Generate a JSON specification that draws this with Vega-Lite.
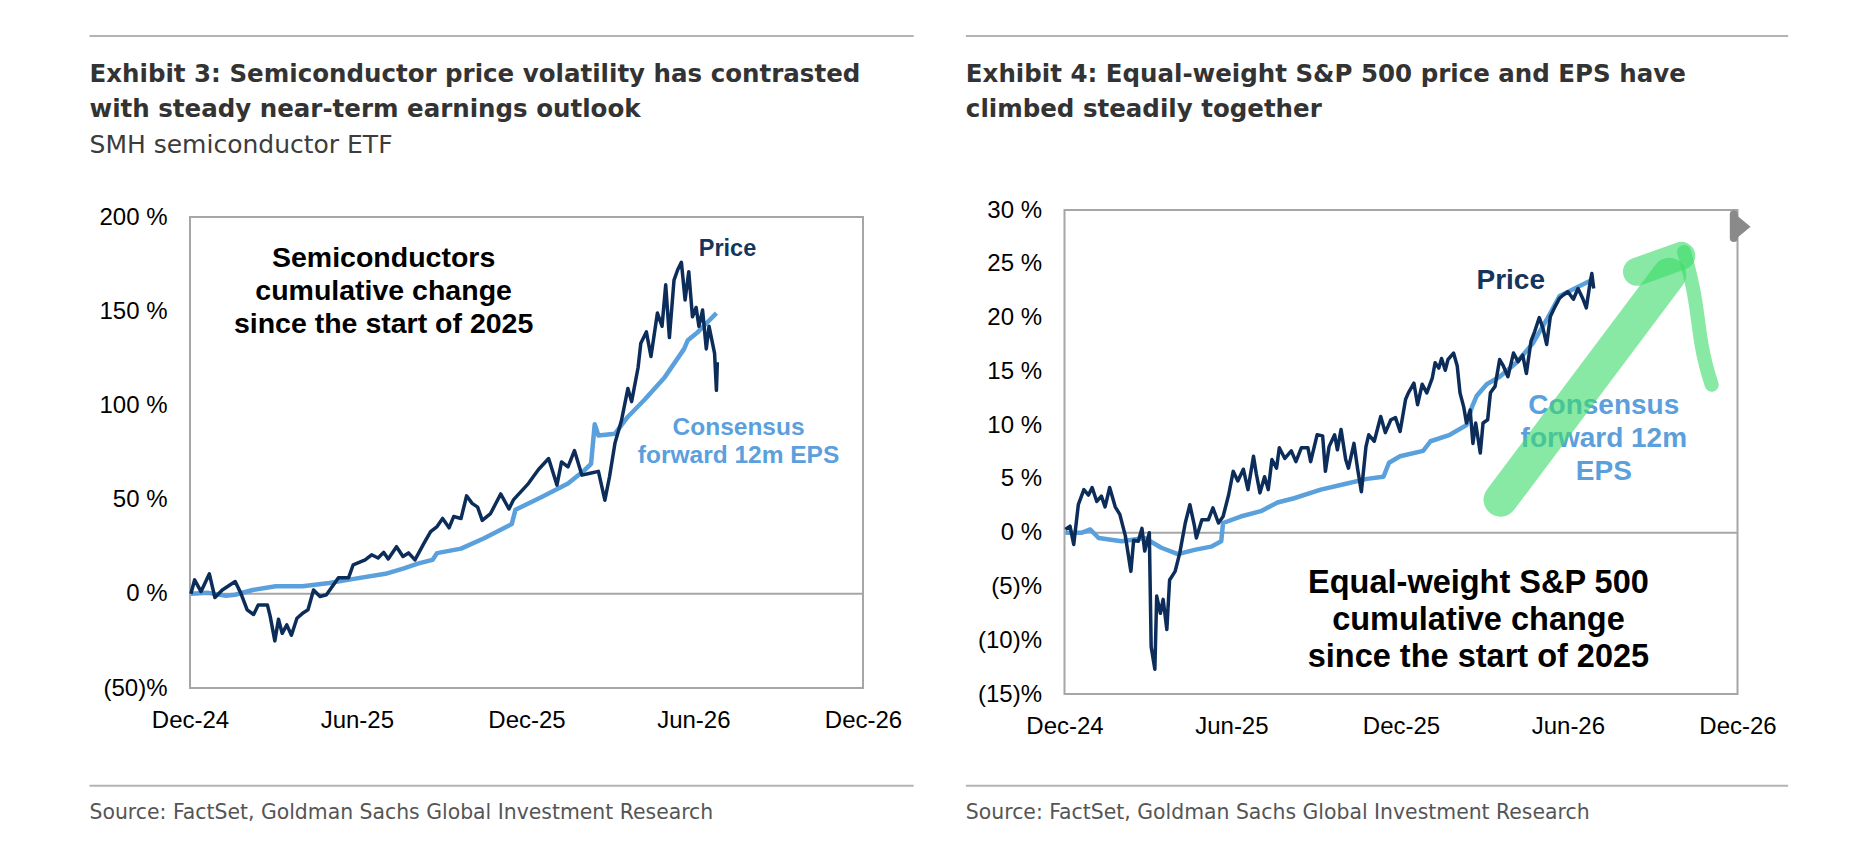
{
  "$schema": "https://vega.github.io/schema/vega-lite/v6.json",
  "background": "white",
  "padding": {"left": 88, "top": 35, "right": 0, "bottom": 0},
  "spacing": 49.5,
  "config": {
    "view": {"stroke": null},
    "axis": {"labelFont": "Liberation Sans", "labelFontSize": 24, "labelColor": "#000000", "domain": false, "ticks": false, "grid": false, "title": null}
  },
  "datasets": {
    "smh": [
      {"date": "2025-01-01", "series": "Price", "value": 0},
      {"date": "2025-01-05", "series": "Price", "value": 7.4},
      {"date": "2025-01-12", "series": "Price", "value": 1.2},
      {"date": "2025-01-21", "series": "Price", "value": 10.6},
      {"date": "2025-01-27", "series": "Price", "value": -2},
      {"date": "2025-02-04", "series": "Price", "value": 2},
      {"date": "2025-02-18", "series": "Price", "value": 6.5},
      {"date": "2025-02-24", "series": "Price", "value": 0.5},
      {"date": "2025-03-03", "series": "Price", "value": -8.5},
      {"date": "2025-03-10", "series": "Price", "value": -11},
      {"date": "2025-03-15", "series": "Price", "value": -6},
      {"date": "2025-03-25", "series": "Price", "value": -6},
      {"date": "2025-03-28", "series": "Price", "value": -12},
      {"date": "2025-04-02", "series": "Price", "value": -25},
      {"date": "2025-04-06", "series": "Price", "value": -13.5},
      {"date": "2025-04-10", "series": "Price", "value": -21},
      {"date": "2025-04-15", "series": "Price", "value": -16.5},
      {"date": "2025-04-20", "series": "Price", "value": -22},
      {"date": "2025-04-26", "series": "Price", "value": -13},
      {"date": "2025-05-03", "series": "Price", "value": -10},
      {"date": "2025-05-08", "series": "Price", "value": -8.5},
      {"date": "2025-05-14", "series": "Price", "value": 2},
      {"date": "2025-05-21", "series": "Price", "value": -1.4},
      {"date": "2025-05-28", "series": "Price", "value": -0.5},
      {"date": "2025-06-10", "series": "Price", "value": 8.5},
      {"date": "2025-06-21", "series": "Price", "value": 8.5},
      {"date": "2025-06-26", "series": "Price", "value": 15.4},
      {"date": "2025-07-09", "series": "Price", "value": 18},
      {"date": "2025-07-16", "series": "Price", "value": 20.7},
      {"date": "2025-07-23", "series": "Price", "value": 19},
      {"date": "2025-07-29", "series": "Price", "value": 22},
      {"date": "2025-08-03", "series": "Price", "value": 18.5},
      {"date": "2025-08-12", "series": "Price", "value": 25},
      {"date": "2025-08-19", "series": "Price", "value": 19.8},
      {"date": "2025-08-25", "series": "Price", "value": 21.7},
      {"date": "2025-09-01", "series": "Price", "value": 18},
      {"date": "2025-09-11", "series": "Price", "value": 27},
      {"date": "2025-09-18", "series": "Price", "value": 33},
      {"date": "2025-09-25", "series": "Price", "value": 35.7},
      {"date": "2025-10-01", "series": "Price", "value": 40},
      {"date": "2025-10-08", "series": "Price", "value": 35},
      {"date": "2025-10-13", "series": "Price", "value": 41},
      {"date": "2025-10-21", "series": "Price", "value": 40},
      {"date": "2025-10-27", "series": "Price", "value": 52},
      {"date": "2025-11-02", "series": "Price", "value": 48},
      {"date": "2025-11-08", "series": "Price", "value": 46},
      {"date": "2025-11-13", "series": "Price", "value": 39},
      {"date": "2025-11-22", "series": "Price", "value": 42.6},
      {"date": "2025-12-03", "series": "Price", "value": 53},
      {"date": "2025-12-12", "series": "Price", "value": 45},
      {"date": "2025-12-17", "series": "Price", "value": 50},
      {"date": "2026-01-02", "series": "Price", "value": 58.5},
      {"date": "2026-01-13", "series": "Price", "value": 66},
      {"date": "2026-01-24", "series": "Price", "value": 71.8},
      {"date": "2026-02-02", "series": "Price", "value": 57.7},
      {"date": "2026-02-07", "series": "Price", "value": 70},
      {"date": "2026-02-14", "series": "Price", "value": 67.4},
      {"date": "2026-02-21", "series": "Price", "value": 76},
      {"date": "2026-03-01", "series": "Price", "value": 63},
      {"date": "2026-03-10", "series": "Price", "value": 64},
      {"date": "2026-03-19", "series": "Price", "value": 65},
      {"date": "2026-03-26", "series": "Price", "value": 49.7},
      {"date": "2026-03-31", "series": "Price", "value": 62},
      {"date": "2026-04-06", "series": "Price", "value": 80},
      {"date": "2026-04-13", "series": "Price", "value": 92},
      {"date": "2026-04-20", "series": "Price", "value": 109},
      {"date": "2026-04-24", "series": "Price", "value": 102},
      {"date": "2026-05-01", "series": "Price", "value": 120},
      {"date": "2026-05-04", "series": "Price", "value": 133},
      {"date": "2026-05-10", "series": "Price", "value": 139},
      {"date": "2026-05-15", "series": "Price", "value": 126},
      {"date": "2026-05-22", "series": "Price", "value": 149},
      {"date": "2026-05-27", "series": "Price", "value": 142},
      {"date": "2026-05-31", "series": "Price", "value": 164},
      {"date": "2026-06-04", "series": "Price", "value": 136},
      {"date": "2026-06-09", "series": "Price", "value": 166.5},
      {"date": "2026-06-13", "series": "Price", "value": 172},
      {"date": "2026-06-17", "series": "Price", "value": 176},
      {"date": "2026-06-21", "series": "Price", "value": 156},
      {"date": "2026-06-25", "series": "Price", "value": 171},
      {"date": "2026-06-29", "series": "Price", "value": 147},
      {"date": "2026-07-03", "series": "Price", "value": 152},
      {"date": "2026-07-06", "series": "Price", "value": 142},
      {"date": "2026-07-10", "series": "Price", "value": 150.6},
      {"date": "2026-07-14", "series": "Price", "value": 130},
      {"date": "2026-07-17", "series": "Price", "value": 142},
      {"date": "2026-07-23", "series": "Price", "value": 127.6},
      {"date": "2026-07-25", "series": "Price", "value": 108},
      {"date": "2026-07-26", "series": "Price", "value": 123},
      {"date": "2025-01-01", "series": "EPS", "value": 0},
      {"date": "2025-01-20", "series": "EPS", "value": 0.5},
      {"date": "2025-02-08", "series": "EPS", "value": -1},
      {"date": "2025-02-18", "series": "EPS", "value": -0.5},
      {"date": "2025-03-09", "series": "EPS", "value": 2},
      {"date": "2025-04-03", "series": "EPS", "value": 4},
      {"date": "2025-05-02", "series": "EPS", "value": 4},
      {"date": "2025-05-31", "series": "EPS", "value": 5.7},
      {"date": "2025-06-25", "series": "EPS", "value": 7.8},
      {"date": "2025-07-31", "series": "EPS", "value": 10.6},
      {"date": "2025-08-20", "series": "EPS", "value": 13.5},
      {"date": "2025-09-04", "series": "EPS", "value": 16},
      {"date": "2025-09-20", "series": "EPS", "value": 18},
      {"date": "2025-09-25", "series": "EPS", "value": 21.6},
      {"date": "2025-10-21", "series": "EPS", "value": 24},
      {"date": "2025-11-15", "series": "EPS", "value": 29.5},
      {"date": "2025-12-15", "series": "EPS", "value": 37},
      {"date": "2025-12-19", "series": "EPS", "value": 44.6},
      {"date": "2026-01-17", "series": "EPS", "value": 51.5},
      {"date": "2026-02-14", "series": "EPS", "value": 58.5},
      {"date": "2026-03-04", "series": "EPS", "value": 65.6},
      {"date": "2026-03-11", "series": "EPS", "value": 69},
      {"date": "2026-03-15", "series": "EPS", "value": 90},
      {"date": "2026-03-19", "series": "EPS", "value": 84},
      {"date": "2026-04-06", "series": "EPS", "value": 85},
      {"date": "2026-04-20", "series": "EPS", "value": 94},
      {"date": "2026-05-08", "series": "EPS", "value": 103},
      {"date": "2026-05-30", "series": "EPS", "value": 115},
      {"date": "2026-06-20", "series": "EPS", "value": 130},
      {"date": "2026-06-24", "series": "EPS", "value": 134.6},
      {"date": "2026-07-05", "series": "EPS", "value": 139},
      {"date": "2026-07-15", "series": "EPS", "value": 144},
      {"date": "2026-07-25", "series": "EPS", "value": 149}
    ],
    "ew": [
      {"date": "2025-01-01", "series": "Price", "value": 0.3},
      {"date": "2025-01-06", "series": "Price", "value": 0.6},
      {"date": "2025-01-10", "series": "Price", "value": -1.1},
      {"date": "2025-01-15", "series": "Price", "value": 2.6},
      {"date": "2025-01-21", "series": "Price", "value": 4.0},
      {"date": "2025-01-26", "series": "Price", "value": 3.5},
      {"date": "2025-01-30", "series": "Price", "value": 4.2},
      {"date": "2025-02-04", "series": "Price", "value": 2.9},
      {"date": "2025-02-09", "series": "Price", "value": 3.4},
      {"date": "2025-02-13", "series": "Price", "value": 2.4},
      {"date": "2025-02-18", "series": "Price", "value": 4.2},
      {"date": "2025-02-24", "series": "Price", "value": 2.4},
      {"date": "2025-03-01", "series": "Price", "value": 1.7},
      {"date": "2025-03-07", "series": "Price", "value": -0.3},
      {"date": "2025-03-13", "series": "Price", "value": -3.6},
      {"date": "2025-03-16", "series": "Price", "value": -0.7},
      {"date": "2025-03-21", "series": "Price", "value": -0.8},
      {"date": "2025-03-25", "series": "Price", "value": 0.4},
      {"date": "2025-03-28", "series": "Price", "value": -1.7},
      {"date": "2025-04-02", "series": "Price", "value": 0},
      {"date": "2025-04-04", "series": "Price", "value": -10.6},
      {"date": "2025-04-08", "series": "Price", "value": -12.7},
      {"date": "2025-04-10", "series": "Price", "value": -5.9},
      {"date": "2025-04-14", "series": "Price", "value": -7.5},
      {"date": "2025-04-17", "series": "Price", "value": -6.2},
      {"date": "2025-04-21", "series": "Price", "value": -9.0},
      {"date": "2025-04-24", "series": "Price", "value": -4.4},
      {"date": "2025-04-30", "series": "Price", "value": -3.6},
      {"date": "2025-05-05", "series": "Price", "value": -1.9},
      {"date": "2025-05-11", "series": "Price", "value": 0.9},
      {"date": "2025-05-16", "series": "Price", "value": 2.6},
      {"date": "2025-05-21", "series": "Price", "value": 0.6},
      {"date": "2025-05-23", "series": "Price", "value": -0.5},
      {"date": "2025-05-29", "series": "Price", "value": 1.2},
      {"date": "2025-06-05", "series": "Price", "value": 1.2},
      {"date": "2025-06-10", "series": "Price", "value": 2.3},
      {"date": "2025-06-16", "series": "Price", "value": 0.9},
      {"date": "2025-06-21", "series": "Price", "value": 1.5},
      {"date": "2025-06-27", "series": "Price", "value": 3.5},
      {"date": "2025-07-02", "series": "Price", "value": 5.7},
      {"date": "2025-07-07", "series": "Price", "value": 4.8},
      {"date": "2025-07-13", "series": "Price", "value": 5.9},
      {"date": "2025-07-18", "series": "Price", "value": 4.0},
      {"date": "2025-07-24", "series": "Price", "value": 7.1},
      {"date": "2025-07-27", "series": "Price", "value": 5.5},
      {"date": "2025-07-31", "series": "Price", "value": 3.7},
      {"date": "2025-08-05", "series": "Price", "value": 5.2},
      {"date": "2025-08-09", "series": "Price", "value": 4.0},
      {"date": "2025-08-13", "series": "Price", "value": 6.8},
      {"date": "2025-08-18", "series": "Price", "value": 6.0},
      {"date": "2025-08-21", "series": "Price", "value": 7.9},
      {"date": "2025-08-27", "series": "Price", "value": 6.9},
      {"date": "2025-09-03", "series": "Price", "value": 7.6},
      {"date": "2025-09-08", "series": "Price", "value": 6.6},
      {"date": "2025-09-14", "series": "Price", "value": 7.9},
      {"date": "2025-09-21", "series": "Price", "value": 7.9},
      {"date": "2025-09-24", "series": "Price", "value": 6.6},
      {"date": "2025-10-01", "series": "Price", "value": 9.1},
      {"date": "2025-10-07", "series": "Price", "value": 9.0},
      {"date": "2025-10-10", "series": "Price", "value": 5.7},
      {"date": "2025-10-14", "series": "Price", "value": 8.0},
      {"date": "2025-10-20", "series": "Price", "value": 9.1},
      {"date": "2025-10-23", "series": "Price", "value": 7.7},
      {"date": "2025-10-27", "series": "Price", "value": 9.6},
      {"date": "2025-11-01", "series": "Price", "value": 6.8},
      {"date": "2025-11-04", "series": "Price", "value": 6.0},
      {"date": "2025-11-10", "series": "Price", "value": 8.3},
      {"date": "2025-11-14", "series": "Price", "value": 5.9},
      {"date": "2025-11-18", "series": "Price", "value": 3.8},
      {"date": "2025-11-23", "series": "Price", "value": 8.0},
      {"date": "2025-11-26", "series": "Price", "value": 9.1},
      {"date": "2025-12-02", "series": "Price", "value": 8.5},
      {"date": "2025-12-09", "series": "Price", "value": 10.8},
      {"date": "2025-12-14", "series": "Price", "value": 9.3},
      {"date": "2025-12-20", "series": "Price", "value": 10.5},
      {"date": "2025-12-25", "series": "Price", "value": 10.7},
      {"date": "2025-12-30", "series": "Price", "value": 9.4},
      {"date": "2026-01-05", "series": "Price", "value": 12.4},
      {"date": "2026-01-08", "series": "Price", "value": 13.0},
      {"date": "2026-01-14", "series": "Price", "value": 13.9},
      {"date": "2026-01-18", "series": "Price", "value": 11.9},
      {"date": "2026-01-23", "series": "Price", "value": 13.8},
      {"date": "2026-01-28", "series": "Price", "value": 13.0},
      {"date": "2026-02-03", "series": "Price", "value": 14.4},
      {"date": "2026-02-06", "series": "Price", "value": 15.8},
      {"date": "2026-02-10", "series": "Price", "value": 15.3},
      {"date": "2026-02-13", "series": "Price", "value": 16.2},
      {"date": "2026-02-17", "series": "Price", "value": 15.1},
      {"date": "2026-02-20", "series": "Price", "value": 16.1},
      {"date": "2026-02-26", "series": "Price", "value": 16.7},
      {"date": "2026-03-02", "series": "Price", "value": 15.5},
      {"date": "2026-03-05", "series": "Price", "value": 13.0},
      {"date": "2026-03-09", "series": "Price", "value": 11.7},
      {"date": "2026-03-12", "series": "Price", "value": 10.2},
      {"date": "2026-03-16", "series": "Price", "value": 11.4},
      {"date": "2026-03-19", "series": "Price", "value": 8.3},
      {"date": "2026-03-22", "series": "Price", "value": 10.2},
      {"date": "2026-03-27", "series": "Price", "value": 7.4},
      {"date": "2026-03-30", "series": "Price", "value": 10.2},
      {"date": "2026-04-04", "series": "Price", "value": 10.5},
      {"date": "2026-04-07", "series": "Price", "value": 13.0},
      {"date": "2026-04-12", "series": "Price", "value": 13.6},
      {"date": "2026-04-17", "series": "Price", "value": 16.1},
      {"date": "2026-04-21", "series": "Price", "value": 15.5},
      {"date": "2026-04-26", "series": "Price", "value": 14.5},
      {"date": "2026-05-02", "series": "Price", "value": 16.7},
      {"date": "2026-05-07", "series": "Price", "value": 15.9},
      {"date": "2026-05-12", "series": "Price", "value": 16.5},
      {"date": "2026-05-16", "series": "Price", "value": 14.8},
      {"date": "2026-05-21", "series": "Price", "value": 17.8},
      {"date": "2026-05-25", "series": "Price", "value": 18.7},
      {"date": "2026-05-30", "series": "Price", "value": 20.0},
      {"date": "2026-06-03", "series": "Price", "value": 19.0},
      {"date": "2026-06-07", "series": "Price", "value": 17.5},
      {"date": "2026-06-11", "series": "Price", "value": 20.1},
      {"date": "2026-06-16", "series": "Price", "value": 21.0},
      {"date": "2026-06-21", "series": "Price", "value": 21.8},
      {"date": "2026-06-25", "series": "Price", "value": 22.1},
      {"date": "2026-06-30", "series": "Price", "value": 22.4},
      {"date": "2026-07-06", "series": "Price", "value": 21.7},
      {"date": "2026-07-11", "series": "Price", "value": 22.7},
      {"date": "2026-07-16", "series": "Price", "value": 21.8},
      {"date": "2026-07-20", "series": "Price", "value": 20.9},
      {"date": "2026-07-24", "series": "Price", "value": 23.2},
      {"date": "2026-07-26", "series": "Price", "value": 24.1},
      {"date": "2026-07-28", "series": "Price", "value": 22.7},
      {"date": "2025-01-01", "series": "EPS", "value": 0},
      {"date": "2025-01-19", "series": "EPS", "value": 0},
      {"date": "2025-01-28", "series": "EPS", "value": 0.3},
      {"date": "2025-02-06", "series": "EPS", "value": -0.5},
      {"date": "2025-03-03", "series": "EPS", "value": -0.8},
      {"date": "2025-03-28", "series": "EPS", "value": -0.5},
      {"date": "2025-04-15", "series": "EPS", "value": -1.4},
      {"date": "2025-05-03", "series": "EPS", "value": -2.0},
      {"date": "2025-05-21", "series": "EPS", "value": -1.6},
      {"date": "2025-06-08", "series": "EPS", "value": -1.3},
      {"date": "2025-06-19", "series": "EPS", "value": -0.8},
      {"date": "2025-06-21", "series": "EPS", "value": 0.9},
      {"date": "2025-07-10", "series": "EPS", "value": 1.5},
      {"date": "2025-08-01", "series": "EPS", "value": 2.0},
      {"date": "2025-08-19", "series": "EPS", "value": 2.8},
      {"date": "2025-09-06", "series": "EPS", "value": 3.2},
      {"date": "2025-10-05", "series": "EPS", "value": 4.0},
      {"date": "2025-10-30", "series": "EPS", "value": 4.5},
      {"date": "2025-11-24", "series": "EPS", "value": 5.0},
      {"date": "2025-12-12", "series": "EPS", "value": 5.2},
      {"date": "2025-12-18", "series": "EPS", "value": 6.5},
      {"date": "2025-12-30", "series": "EPS", "value": 7.1},
      {"date": "2026-01-24", "series": "EPS", "value": 7.6},
      {"date": "2026-02-01", "series": "EPS", "value": 8.5},
      {"date": "2026-02-22", "series": "EPS", "value": 9.1},
      {"date": "2026-03-12", "series": "EPS", "value": 10.0},
      {"date": "2026-03-18", "series": "EPS", "value": 11.7},
      {"date": "2026-03-23", "series": "EPS", "value": 12.7},
      {"date": "2026-04-03", "series": "EPS", "value": 13.8},
      {"date": "2026-04-17", "series": "EPS", "value": 14.5},
      {"date": "2026-05-05", "series": "EPS", "value": 15.8},
      {"date": "2026-05-23", "series": "EPS", "value": 17.6},
      {"date": "2026-06-07", "series": "EPS", "value": 19.8},
      {"date": "2026-06-21", "series": "EPS", "value": 22.0},
      {"date": "2026-07-26", "series": "EPS", "value": 23.5}
    ],
    "arrow": [
      {"date": "2026-04-18", "value": 3.07, "part": "body"},
      {"date": "2026-10-18", "value": 23.98, "part": "body"},
      {"date": "2026-09-13", "value": 24.26, "part": "wing"},
      {"date": "2026-10-31", "value": 25.74, "part": "wing"},
      {"date": "2026-11-03", "value": 26.1, "part": "hook"},
      {"date": "2026-11-15", "value": 21.65, "part": "hook"},
      {"date": "2026-11-22", "value": 17.47, "part": "hook"},
      {"date": "2026-12-03", "value": 13.75, "part": "hook"}
    ]
  },
  "hconcat": [
    {
      "width": 673,
      "height": 478,
      "layer": [
        {
          "data": {"values": [{}]},
          "mark": {"type": "rect", "filled": false, "stroke": "#a6a6a6", "strokeWidth": 2},
          "encoding": {
            "x": {"datum": {"year": 2024, "month": 12, "date": 31, "utc": true}, "type": "temporal",
                  "scale": {"type": "utc", "domain": [{"year": 2024, "month": 12, "date": 31, "utc": true}, {"year": 2026, "month": 12, "date": 31, "utc": true}]},
                  "axis": {"values": [{"year": 2024, "month": 12, "date": 31, "utc": true}, {"year": 2025, "month": 6, "date": 30, "utc": true}, {"year": 2025, "month": 12, "date": 31, "utc": true}, {"year": 2026, "month": 6, "date": 30, "utc": true}, {"year": 2026, "month": 12, "date": 31, "utc": true}],
                           "format": "%b-%y", "labelPadding": 20, "labelFlush": false, "labelOverlap": false}},
            "x2": {"datum": {"year": 2026, "month": 12, "date": 31, "utc": true}},
            "y": {"datum": -50, "type": "quantitative",
                  "scale": {"domain": [-50, 203.72], "nice": false, "zero": false},
                  "axis": {"values": [-50, 0, 50, 100, 150, 200], "labelPadding": 23,
                           "labelExpr": "datum.value < 0 ? '(' + (-datum.value) + ')%' : datum.value + ' %'"}},
            "y2": {"datum": 200}
          }
        },
        {
          "data": {"values": [{}]},
          "mark": {"type": "rule", "color": "#a6a6a6", "strokeWidth": 2},
          "encoding": {"y": {"datum": 0, "type": "quantitative"}}
        },
        {
          "data": {"values": [{}]},
          "mark": {"type": "rule", "color": "#b4b4b4", "strokeWidth": 2},
          "encoding": {
            "x": {"datum": {"year": 2024, "month": 9, "date": 13, "utc": true}, "type": "temporal"},
            "x2": {"datum": {"year": 2027, "month": 2, "date": 24, "utc": true}},
            "y": {"datum": 296.07, "type": "quantitative"}
          }
        },
        {
          "data": {"values": [{}]},
          "mark": {"type": "rule", "color": "#b4b4b4", "strokeWidth": 2},
          "encoding": {
            "x": {"datum": {"year": 2024, "month": 9, "date": 13, "utc": true}, "type": "temporal"},
            "x2": {"datum": {"year": 2027, "month": 2, "date": 24, "utc": true}},
            "y": {"datum": -101.86, "type": "quantitative"}
          }
        },
        {
          "data": {"name": "smh"},
          "transform": [{"filter": "datum.series === 'EPS'"}],
          "mark": {"type": "line", "color": "#5aa0dc", "strokeWidth": 4.5, "strokeJoin": "round"},
          "encoding": {
            "x": {"field": "date", "type": "temporal"},
            "y": {"field": "value", "type": "quantitative"}
          }
        },
        {
          "data": {"name": "smh"},
          "transform": [{"filter": "datum.series === 'Price'"}],
          "mark": {"type": "line", "color": "#0c2d5a", "strokeWidth": 3.5, "strokeJoin": "round"},
          "encoding": {
            "x": {"field": "date", "type": "temporal"},
            "y": {"field": "value", "type": "quantitative"}
          }
        },
        {
          "data": {"values": [{}]},
          "mark": {"type": "text", "text": ["Exhibit 3: Semiconductor price volatility has contrasted", "with steady near-term earnings outlook"], "font": "DejaVu Sans", "fontSize": 24.5, "fontWeight": "bold", "color": "#333333", "align": "left", "baseline": "middle", "lineHeight": 35.5},
          "encoding": {
            "x": {"datum": {"year": 2024, "month": 9, "date": 13, "utc": true}, "type": "temporal"},
            "y": {"datum": 275.58, "type": "quantitative"}
          }
        },
        {
          "data": {"values": [{}]},
          "mark": {"type": "text", "text": "SMH semiconductor ETF", "font": "DejaVu Sans", "fontSize": 25, "color": "#3c3c3c", "align": "left", "baseline": "middle"},
          "encoding": {
            "x": {"datum": {"year": 2024, "month": 9, "date": 13, "utc": true}, "type": "temporal"},
            "y": {"datum": 238.22, "type": "quantitative"}
          }
        },
        {
          "data": {"values": [{}]},
          "mark": {"type": "text", "text": "Source: FactSet, Goldman Sachs Global Investment Research", "font": "DejaVu Sans", "fontSize": 20.4, "color": "#555555", "align": "left", "baseline": "middle"},
          "encoding": {
            "x": {"datum": {"year": 2024, "month": 9, "date": 13, "utc": true}, "type": "temporal"},
            "y": {"datum": -116.35, "type": "quantitative"}
          }
        },
        {
          "data": {"values": [{}]},
          "mark": {"type": "text", "text": ["Semiconductors", "cumulative change", "since the start of 2025"], "font": "Liberation Sans", "fontSize": 28.5, "fontWeight": "bold", "color": "#000000", "align": "center", "baseline": "middle", "lineHeight": 33},
          "encoding": {
            "x": {"datum": {"year": 2025, "month": 7, "date": 29, "utc": true}, "type": "temporal"},
            "y": {"datum": 178.1, "type": "quantitative"}
          }
        },
        {
          "data": {"values": [{}]},
          "mark": {"type": "text", "text": "Price", "font": "Liberation Sans", "fontSize": 23.5, "fontWeight": "bold", "color": "#15355e", "align": "center", "baseline": "middle"},
          "encoding": {
            "x": {"datum": {"year": 2026, "month": 8, "date": 6, "utc": true}, "type": "temporal"},
            "y": {"datum": 182.8, "type": "quantitative"}
          }
        },
        {
          "data": {"values": [{}]},
          "mark": {"type": "text", "text": ["Consensus", "forward 12m EPS"], "font": "Liberation Sans", "fontSize": 24.5, "fontWeight": "bold", "color": "#5b9fdc", "align": "center", "baseline": "middle", "lineHeight": 28},
          "encoding": {
            "x": {"datum": {"year": 2026, "month": 8, "date": 18, "utc": true}, "type": "temporal"},
            "y": {"datum": 88.17, "type": "quantitative"}
          }
        }
      ]
    },
    {
      "width": 673,
      "height": 484,
      "layer": [
        {
          "data": {"values": [{}]},
          "mark": {"type": "rect", "filled": false, "stroke": "#a6a6a6", "strokeWidth": 2},
          "encoding": {
            "x": {"datum": {"year": 2024, "month": 12, "date": 31, "utc": true}, "type": "temporal",
                  "scale": {"type": "utc", "domain": [{"year": 2024, "month": 12, "date": 31, "utc": true}, {"year": 2026, "month": 12, "date": 31, "utc": true}]},
                  "axis": {"values": [{"year": 2024, "month": 12, "date": 31, "utc": true}, {"year": 2025, "month": 6, "date": 30, "utc": true}, {"year": 2025, "month": 12, "date": 31, "utc": true}, {"year": 2026, "month": 6, "date": 30, "utc": true}, {"year": 2026, "month": 12, "date": 31, "utc": true}],
                           "format": "%b-%y", "labelPadding": 20, "labelFlush": false, "labelOverlap": false}},
            "x2": {"datum": {"year": 2026, "month": 12, "date": 31, "utc": true}},
            "y": {"datum": -15, "type": "quantitative",
                  "scale": {"domain": [-15, 30], "nice": false, "zero": false},
                  "axis": {"values": [-15, -10, -5, 0, 5, 10, 15, 20, 25, 30], "labelPadding": 23,
                           "labelExpr": "datum.value < 0 ? '(' + (-datum.value) + ')%' : datum.value + ' %'"}},
            "y2": {"datum": 30}
          }
        },
        {
          "data": {"values": [{}]},
          "mark": {"type": "rule", "color": "#a6a6a6", "strokeWidth": 2},
          "encoding": {"y": {"datum": 0, "type": "quantitative"}}
        },
        {
          "data": {"values": [{}]},
          "mark": {"type": "rule", "color": "#b4b4b4", "strokeWidth": 2},
          "encoding": {
            "x": {"datum": {"year": 2024, "month": 9, "date": 15, "utc": true}, "type": "temporal"},
            "x2": {"datum": {"year": 2027, "month": 2, "date": 24, "utc": true}},
            "y": {"datum": 46.17, "type": "quantitative"}
          }
        },
        {
          "data": {"values": [{}]},
          "mark": {"type": "rule", "color": "#b4b4b4", "strokeWidth": 2},
          "encoding": {
            "x": {"datum": {"year": 2024, "month": 9, "date": 15, "utc": true}, "type": "temporal"},
            "x2": {"datum": {"year": 2027, "month": 2, "date": 24, "utc": true}},
            "y": {"datum": -23.52, "type": "quantitative"}
          }
        },
        {
          "data": {"name": "ew"},
          "transform": [{"filter": "datum.series === 'EPS'"}],
          "mark": {"type": "line", "color": "#5aa0dc", "strokeWidth": 4.5, "strokeJoin": "round"},
          "encoding": {
            "x": {"field": "date", "type": "temporal"},
            "y": {"field": "value", "type": "quantitative"}
          }
        },
        {
          "data": {"name": "ew"},
          "transform": [{"filter": "datum.series === 'Price'"}],
          "mark": {"type": "line", "color": "#0c2d5a", "strokeWidth": 3.5, "strokeJoin": "round"},
          "encoding": {
            "x": {"field": "date", "type": "temporal"},
            "y": {"field": "value", "type": "quantitative"}
          }
        },
        {
          "data": {"values": [{}]},
          "mark": {"type": "text", "text": ["Exhibit 4: Equal-weight S&P 500 price and EPS have", "climbed steadily together"], "font": "DejaVu Sans", "fontSize": 24.5, "fontWeight": "bold", "color": "#333333", "align": "left", "baseline": "middle", "lineHeight": 35.5},
          "encoding": {
            "x": {"datum": {"year": 2024, "month": 9, "date": 15, "utc": true}, "type": "temporal"},
            "y": {"datum": 42.58, "type": "quantitative"}
          }
        },
        {
          "data": {"values": [{}]},
          "mark": {"type": "text", "text": "Source: FactSet, Goldman Sachs Global Investment Research", "font": "DejaVu Sans", "fontSize": 20.4, "color": "#555555", "align": "left", "baseline": "middle"},
          "encoding": {
            "x": {"datum": {"year": 2024, "month": 9, "date": 15, "utc": true}, "type": "temporal"},
            "y": {"datum": -26.06, "type": "quantitative"}
          }
        },
        {
          "data": {"values": [{}]},
          "mark": {"type": "text", "text": ["Equal-weight S&P 500", "cumulative change", "since the start of 2025"], "font": "Liberation Sans", "fontSize": 32.5, "fontWeight": "bold", "color": "#000000", "align": "center", "baseline": "middle", "lineHeight": 37},
          "encoding": {
            "x": {"datum": {"year": 2026, "month": 3, "date": 25, "utc": true}, "type": "temporal"},
            "y": {"datum": -4.70, "type": "quantitative"}
          }
        },
        {
          "data": {"values": [{}]},
          "mark": {"type": "text", "text": "Price", "font": "Liberation Sans", "fontSize": 28, "fontWeight": "bold", "color": "#15355e", "align": "center", "baseline": "middle"},
          "encoding": {
            "x": {"datum": {"year": 2026, "month": 4, "date": 29, "utc": true}, "type": "temporal"},
            "y": {"datum": 23.43, "type": "quantitative"}
          }
        },
        {
          "data": {"values": [{}]},
          "mark": {"type": "text", "text": ["Consensus", "forward 12m", "EPS"], "font": "Liberation Sans", "fontSize": 28, "fontWeight": "bold", "color": "#5b9fdc", "align": "center", "baseline": "middle", "lineHeight": 33},
          "encoding": {
            "x": {"datum": {"year": 2026, "month": 8, "date": 8, "utc": true}, "type": "temporal"},
            "y": {"datum": 11.75, "type": "quantitative"}
          }
        },
        {
          "data": {"name": "arrow"},
          "transform": [{"filter": "datum.part === 'body'"}],
          "mark": {"type": "line", "color": "#3ddc6a", "opacity": 0.62, "strokeWidth": 34, "strokeCap": "round"},
          "encoding": {
            "x": {"field": "date", "type": "temporal"},
            "y": {"field": "value", "type": "quantitative"}
          }
        },
        {
          "data": {"name": "arrow"},
          "transform": [{"filter": "datum.part === 'wing'"}],
          "mark": {"type": "line", "color": "#3ddc6a", "opacity": 0.62, "strokeWidth": 28, "strokeCap": "round"},
          "encoding": {
            "x": {"field": "date", "type": "temporal"},
            "y": {"field": "value", "type": "quantitative"}
          }
        },
        {
          "data": {"name": "arrow"},
          "transform": [{"filter": "datum.part === 'hook'"}],
          "mark": {"type": "line", "color": "#3ddc6a", "opacity": 0.62, "strokeWidth": 14, "strokeCap": "round", "strokeJoin": "round", "interpolate": "monotone"},
          "encoding": {
            "x": {"field": "date", "type": "temporal"},
            "y": {"field": "value", "type": "quantitative"}
          }
        },
        {
          "data": {"values": [{}]},
          "mark": {"type": "rule", "color": "#8a8a8a", "strokeWidth": 8, "strokeCap": "round"},
          "encoding": {
            "x": {"datum": {"year": 2026, "month": 12, "date": 27, "utc": true}, "type": "temporal"},
            "y": {"datum": 29.6, "type": "quantitative"},
            "y2": {"datum": 27.4}
          }
        },
        {
          "data": {"values": [{}]},
          "mark": {"type": "point", "filled": true, "color": "#8a8a8a", "opacity": 1, "size": 625, "shape": "M -0.6 -1 L 0.6 0 L -0.6 1 Z"},
          "encoding": {
            "x": {"datum": {"year": 2027, "month": 1, "date": 6, "utc": true}, "type": "temporal"},
            "y": {"datum": 28.45, "type": "quantitative"}
          }
        }
      ]
    }
  ]
}
